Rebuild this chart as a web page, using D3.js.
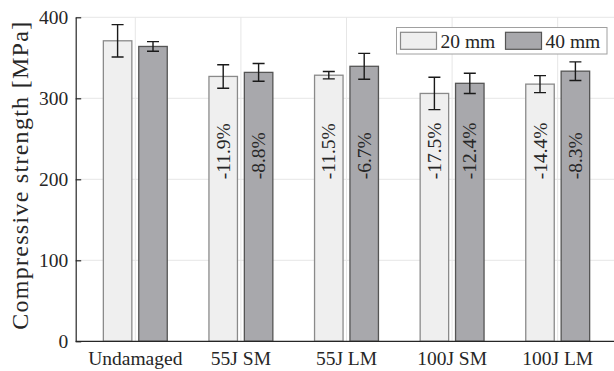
<!DOCTYPE html>
<html>
<head>
<meta charset="utf-8">
<script src="https://cdn.jsdelivr.net/npm/d3@7"></script>
<style>
  html, body { margin: 0; padding: 0; background: #fff; }
  svg { display: block; }
</style>
</head>
<body>
<svg id="chart" width="614" height="371"></svg>
<script>
// Impact cases and the two specimen thicknesses
const categories = ["Undamaged", "55J SM", "55J LM", "100J SM", "100J LM"];
const seriesNames = ["20 mm", "40 mm"];

// Mean compressive strength [MPa]
const mean20 = [371, 327, 328.5, 306, 317.5];
const mean40 = [364, 332, 339.5, 318.5, 333.5];

// Error bar half-widths [MPa]
const err20 = [20, 14.5, 4.5, 20, 10.5];
const err40 = [6, 11, 16, 12.5, 11.5];

// Strength reduction relative to the undamaged case (null = no label)
const drop20 = [null, "-11.9%", "-11.5%", "-17.5%", "-14.4%"];
const drop40 = [null, "-8.8%", "-6.7%", "-12.4%", "-8.3%"];

const yTicks = [0, 100, 200, 300, 400];
const yLabel = "Compressive strength [MPa]";
const labelAnchorValue = 200;

const FONT = "'Liberation Serif', 'Times New Roman', serif";
const INK = "#262626";
const fills = { "20 mm": "#efefef", "40 mm": "#a8a8ac" };
const strokes = { "20 mm": "#8a8a8a", "40 mm": "#555555" };

const svg = d3.select("#chart");
const W = 614;
const axisX = 75.7;

const y = d3.scaleLinear().domain([0, 400]).range([341.3, 17.3]);

const x0 = d3.scaleBand().domain(categories).range([82.5, 610.5]).paddingInner(0).paddingOuter(0);
const x1 = d3.scaleBand().domain(seriesNames).range([0, x0.bandwidth()])
  .paddingInner(0.195).paddingOuter(0.589);

const rows = categories.map((c, i) => ({
  cat: c,
  vals: [
    { s: "20 mm", v: mean20[i], e: err20[i], lab: drop20[i] },
    { s: "40 mm", v: mean40[i], e: err40[i], lab: drop40[i] }
  ]
}));

function serif(sel, size) {
  sel.style("font-family", FONT).style("font-size", size + "px").style("fill", INK);
}

// grid
const grid = svg.append("g");
grid.selectAll("line.h").data(yTicks.filter(t => t > 0)).join("line")
  .attr("x1", axisX).attr("x2", W)
  .attr("y1", d => y(d)).attr("y2", d => y(d))
  .attr("stroke", "#e6e6e6").attr("stroke-width", 1);
grid.selectAll("line.v").data(categories).join("line")
  .attr("x1", d => x0(d) + x0.bandwidth() / 2).attr("x2", d => x0(d) + x0.bandwidth() / 2)
  .attr("y1", y(400)).attr("y2", y(0))
  .attr("stroke", "#e6e6e6").attr("stroke-width", 1);

// bars
const groups = svg.append("g").selectAll("g").data(rows).join("g")
  .attr("transform", d => `translate(${x0(d.cat)},0)`);

groups.selectAll("rect").data(d => d.vals).join("rect")
  .attr("x", d => x1(d.s))
  .attr("width", x1.bandwidth())
  .attr("y", d => y(d.v))
  .attr("height", d => y(0) - y(d.v))
  .attr("fill", d => fills[d.s])
  .attr("stroke", d => strokes[d.s])
  .attr("stroke-width", 1.3);

// error bars
const capHalf = 6;
groups.selectAll("path.err").data(d => d.vals).join("path")
  .attr("class", "err")
  .attr("d", d => {
    const cx = x1(d.s) + x1.bandwidth() / 2;
    const t = y(d.v + d.e), b = y(d.v - d.e);
    return `M${cx - capHalf},${t}H${cx + capHalf}M${cx},${t}V${b}M${cx - capHalf},${b}H${cx + capHalf}`;
  })
  .attr("fill", "none").attr("stroke", "#1a1a1a").attr("stroke-width", 1.4);

// reduction labels
groups.selectAll("text.drop").data(d => d.vals.filter(v => v.lab)).join("text")
  .attr("class", "drop")
  .attr("transform", d => `translate(${x1(d.s) + x1.bandwidth() / 2},${y(labelAnchorValue)}) rotate(-90)`)
  .attr("text-anchor", "start")
  .attr("dy", "0.34em")
  .call(serif, 19.5)
  .text(d => d.lab);

// axes
const yAxis = d3.axisLeft(y).tickValues(yTicks).tickSizeInner(-5.5).tickSizeOuter(0).tickPadding(7.5);
const gy = svg.append("g").attr("transform", `translate(${axisX},0)`).call(yAxis);
gy.attr("font-family", null).attr("font-size", null);
gy.select(".domain").attr("stroke", INK).attr("stroke-width", 1.2);
gy.selectAll(".tick line").attr("stroke", INK).attr("stroke-width", 1.2);
gy.selectAll(".tick text").call(serif, 19.5);

svg.append("line")
  .attr("x1", axisX).attr("x2", W).attr("y1", y(0)).attr("y2", y(0))
  .attr("stroke", INK).attr("stroke-width", 1.2);

const xAxis = d3.axisBottom(x0).tickSize(0).tickPadding(9.5);
const gx = svg.append("g").attr("transform", `translate(0,${y(0)})`).call(xAxis);
gx.attr("font-family", null).attr("font-size", null);
gx.select(".domain").remove();
gx.selectAll(".tick text").call(serif, 19.5);

// y-axis title
svg.append("text")
  .attr("transform", `translate(28,${(21.7 + 330) / 2}) rotate(-90)`)
  .attr("text-anchor", "middle")
  .attr("textLength", 308)
  .attr("lengthAdjust", "spacing")
  .call(serif, 24)
  .text(yLabel);

// legend
const leg = svg.append("g");
leg.append("rect").attr("x", 396.5).attr("y", 27.5).attr("width", 210.5).attr("height", 26.5)
  .attr("fill", "#fff").attr("stroke", "#a0a0a0").attr("stroke-width", 1);
const legX = [400.5, 505.5];
seriesNames.forEach((s, i) => {
  leg.append("rect").attr("x", legX[i]).attr("y", 32.3).attr("width", 36).attr("height", 17)
    .attr("fill", fills[s]).attr("stroke", strokes[s]).attr("stroke-width", 1.2);
  leg.append("text").attr("x", legX[i] + 40).attr("y", 41).attr("dy", "0.35em")
    .call(serif, 19.5).text(s);
});
</script>
</body>
</html>
